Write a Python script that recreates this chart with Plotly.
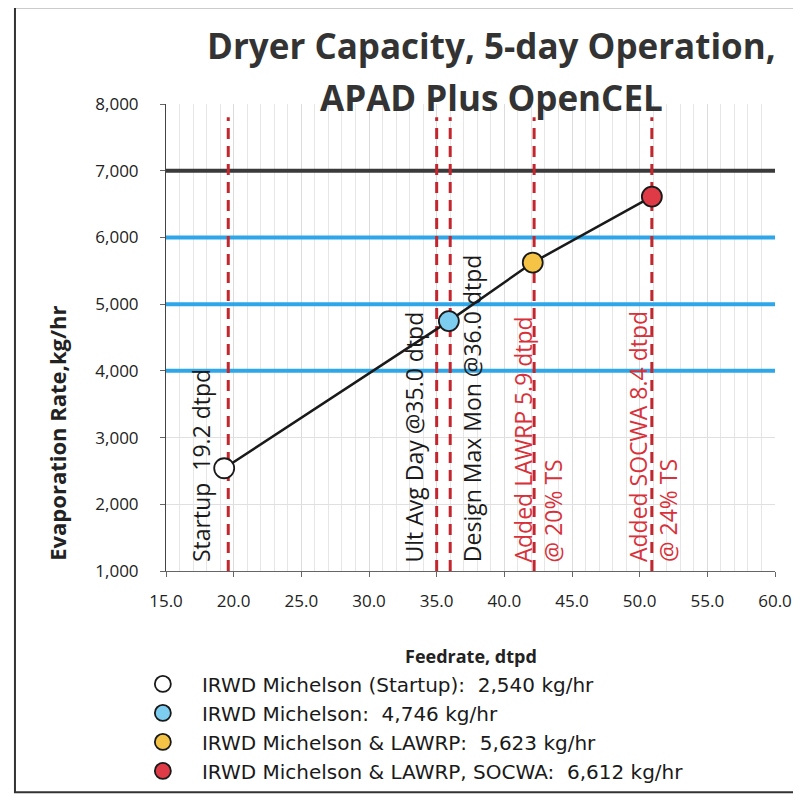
import plotly.graph_objects as go

# =========================
# DATA
# =========================

feedrate = [19.3, 35.9, 42.1, 50.9]
evap_rate = [2540, 4746, 5623, 6612]
case_names = [
    "IRWD Michelson (Startup)",
    "IRWD Michelson",
    "IRWD Michelson & LAWRP",
    "IRWD Michelson & LAWRP, SOCWA",
]
case_colors = ["#ffffff", "#7dcdf0", "#f5c446", "#de3b47"]

capacity_levels = [7000, 6000, 5000, 4000]
capacity_colors = ["#3a3a3a", "#2ea6e8", "#2ea6e8", "#2ea6e8"]

marker_lines = [19.6, 35.0, 36.0, 42.2, 50.9]

label_text = [
    "Startup  19.2 dtpd",
    "Ult Avg Day @35.0 dtpd",
    "Design Max Mon @36.0 dtpd",
    "Added LAWRP 5.9 dtpd<br>@ 20% TS",
    "Added SOCWA 8.4 dtpd<br>@ 24% TS",
]
label_x = [17.6, 33.3, 37.6, 42.5, 51.0]
label_colors = ["#1a1a1a", "#1a1a1a", "#1a1a1a", "#d8313a", "#d8313a"]

x_min, x_max = 15, 60
y_min, y_max = 1000, 8000

# =========================
# FIGURE
# =========================

fig = go.Figure()

# capacity lines
for lvl, col in zip(capacity_levels, capacity_colors):
    fig.add_trace(go.Scatter(
        x=[x_min, x_max], y=[lvl, lvl], mode="lines",
        line=dict(color=col, width=4), showlegend=False, hoverinfo="skip"))

# vertical dashed markers
for xv in marker_lines:
    fig.add_trace(go.Scatter(
        x=[xv, xv], y=[y_min, 7800], mode="lines",
        line=dict(color="#c3262d", width=3, dash="11px,7px"),
        showlegend=False, hoverinfo="skip"))

# connecting line
fig.add_trace(go.Scatter(
    x=feedrate, y=evap_rate, mode="lines",
    line=dict(color="#1a1a1a", width=2.5), showlegend=False, hoverinfo="skip"))

# points + legend
for fx, ev, nm, col in zip(feedrate, evap_rate, case_names, case_colors):
    fig.add_trace(go.Scatter(
        x=[fx], y=[ev], mode="markers",
        name="\u00a0\u00a0\u00a0" + f"{nm}:  {ev:,} kg/hr",
        marker=dict(size=20, color=col, line=dict(color="#1a1a1a", width=1.8))))

for txt, lx, col in zip(label_text, label_x, label_colors):
    fig.add_annotation(
        x=lx, y=1100, xref="x", yref="y", text=txt, showarrow=False,
        textangle=-90, xanchor="center", yanchor="bottom", align="left",
        font=dict(family="Open Sans", size=23, color=col))

# title lines
fig.add_annotation(x=0.535, y=(577 - 45) / 473, xref="paper", yref="paper",
                   xanchor="center", yanchor="middle",
                   text="<b>Dryer Capacity, 5-day Operation,</b>", showarrow=False,
                   font=dict(family="Open Sans", size=35, color="#333333"))
fig.add_annotation(x=0.535, y=(577 - 97) / 473, xref="paper", yref="paper",
                   xanchor="center", yanchor="middle",
                   text="<b>APAD Plus OpenCEL</b>", showarrow=False,
                   font=dict(family="Open Sans", size=35, color="#333333"))

# axis titles
fig.add_annotation(x=-0.179, y=0.296, xref="paper", yref="paper",
                   xanchor="center", yanchor="middle",
                   text="<b>Evaporation Rate,kg/hr</b>", showarrow=False, textangle=-90,
                   font=dict(family="Open Sans", size=22, color="#222222"))
fig.add_annotation(x=0.5, y=-0.182, xref="paper", yref="paper",
                   xanchor="center", yanchor="middle",
                   text="<b>Feedrate, dtpd</b>", showarrow=False,
                   font=dict(family="Open Sans", size=18, color="#222222"))

# outer frame
fig.add_shape(type="rect", xref="paper", yref="paper",
              x0=-0.248, x1=1.05, y0=-0.4736, y1=1.207,
              line=dict(color="#333333", width=2))

fig.update_xaxes(
    range=[x_min, x_max], dtick=5, tickformat=".1f", automargin=False,
    showgrid=True, gridcolor="#dcdcdc", gridwidth=1,
    minor=dict(dtick=1, showgrid=True, gridcolor="#e6e6e6", gridwidth=1),
    showline=True, linecolor="#666666", linewidth=1,
    ticks="outside", ticklen=5, tickcolor="#666666",
    ticklabelstandoff=10, zeroline=False, ticklabeloverflow="allow",
    tickfont=dict(family="Open Sans", size=17, color="#222222"))

fig.update_yaxes(
    range=[y_min, y_max], dtick=1000, tickformat=",", automargin=False,
    showgrid=True, gridcolor="#e0e0e0", gridwidth=1,
    showline=True, linecolor="#444444", linewidth=1,
    ticks="outside", ticklen=5, tickcolor="#666666",
    ticklabelstandoff=18, zeroline=False,
    tickfont=dict(family="Open Sans", size=17, color="#222222"))

# page body adds an 8px margin; keep the page inside the window (no scrollbars)
fig.update_layout(
    width=785, height=794,
    margin=dict(l=158, r=18, t=96, b=225),
    paper_bgcolor="white", plot_bgcolor="white",
    legend=dict(x=-0.038, y=-0.2, xanchor="left", yanchor="top",
                font=dict(family="DejaVu Sans", size=20, color="#1a1a1a"),
                bgcolor="rgba(0,0,0,0)", tracegroupgap=0),
)

fig.write_html("out.html")
